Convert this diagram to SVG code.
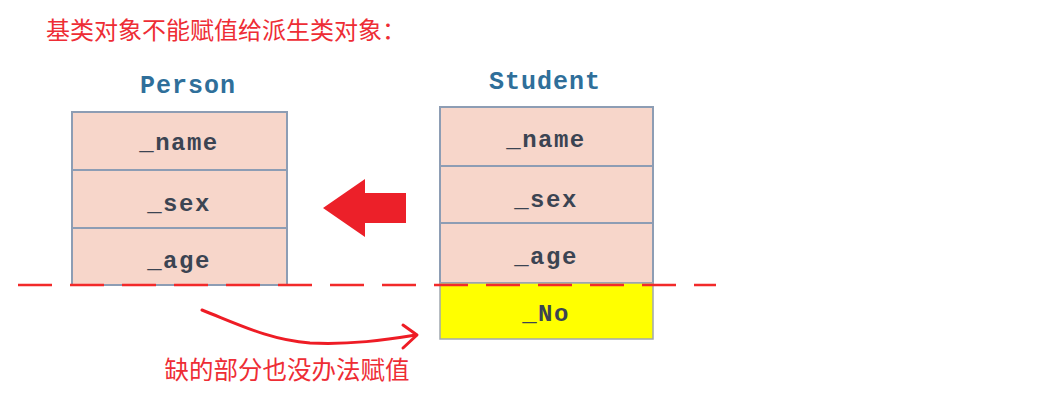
<svg xmlns="http://www.w3.org/2000/svg" width="1050" height="404" viewBox="0 0 1050 404">
  <style>
    .cell { fill: #f7d6ca; stroke: #8d9db4; stroke-width: 2; }
    .yel { fill: #ffff00; stroke: #a0a8b0; stroke-width: 1.5; }
    .fld { font-family: "Liberation Mono", "DejaVu Sans Mono", monospace; font-size: 24px; font-weight: bold; fill: #3b4452; text-anchor: middle; letter-spacing: 1.5px; }
    .hdr { font-family: "Liberation Mono", "DejaVu Sans Mono", monospace; font-size: 25px; font-weight: bold; fill: #2f6f9a; text-anchor: middle; letter-spacing: 1px; }
    .note { font-family: "Noto Sans CJK SC", "Liberation Sans", sans-serif; fill: #ee2d35; }
  </style>
  <rect width="1050" height="404" fill="#ffffff"/>

  <text class="note" x="46" y="39" font-size="24">基类对象不能赋值给派生类对象：</text>

  <g id="person">
    <text class="hdr" x="188" y="93">Person</text>
    <rect class="cell" x="72" y="112" width="215" height="58"/>
    <rect class="cell" x="72" y="170" width="215" height="58"/>
    <rect class="cell" x="72" y="228" width="215" height="57"/>
    <text class="fld" x="179" y="150">_name</text>
    <text class="fld" x="179" y="211">_sex</text>
    <text class="fld" x="179" y="268">_age</text>
  </g>

  <g id="student">
    <text class="hdr" x="545" y="89">Student</text>
    <rect class="cell" x="440" y="107" width="213" height="59"/>
    <rect class="cell" x="440" y="166" width="213" height="57"/>
    <rect class="cell" x="440" y="223" width="213" height="60"/>
    <rect class="yel" x="440" y="283" width="213" height="56"/>
    <text class="fld" x="546" y="147">_name</text>
    <text class="fld" x="546" y="207">_sex</text>
    <text class="fld" x="546" y="264">_age</text>
    <text class="fld" x="546" y="321">_No</text>
  </g>

  <g id="connectors">
    <line x1="18" y1="285" x2="716" y2="285" stroke="#f22a2a" stroke-width="2.5" stroke-dasharray="34 18"/>
    <polygon points="323,208 365,179 365,193 406,193 406,223 365,223 365,237" fill="#ec2029"/>
    <path d="M202,310 C240,325 270,340 310,343 C350,345 385,340 416,335" fill="none" stroke="#ee1c25" stroke-width="3" stroke-linecap="round"/>
    <path d="M403,325 L417,335 L403,348" fill="none" stroke="#ee1c25" stroke-width="3" stroke-linecap="round" stroke-linejoin="round"/>
  </g>

  <text class="note" x="287" y="379" font-size="24.5" text-anchor="middle">缺的部分也没办法赋值</text>
</svg>
